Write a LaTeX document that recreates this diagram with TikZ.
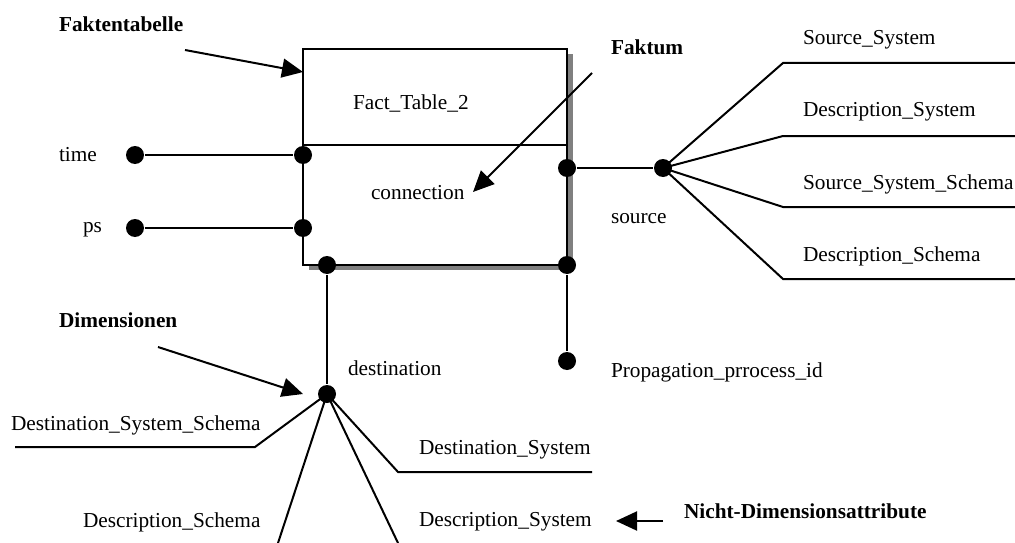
\documentclass[tikz,border=0pt]{standalone}
\usepackage{fontspec}
\setmainfont{Liberation Serif}
\usetikzlibrary{arrows.meta,shadows}
\begin{document}
\begin{tikzpicture}[x=1pt,y=-1pt,
  line width=2pt,
  every node/.style={font=\fontsize{21.3}{25}\selectfont},
  dot/.style={circle,fill=black,draw=none,minimum size=18pt,inner sep=0pt},
  lbl/.style={anchor=base west,inner sep=0pt},
  boldlbl/.style={lbl,font=\fontsize{21.3}{25}\selectfont\bfseries},
  pointer/.style={-{Triangle[length=21pt,width=19pt]},line width=2pt},
  conn/.style={line width=2pt}]
\useasboundingbox (0,0) rectangle (1015,543);

% fact table box with drop shadow
\node (fact) [draw,fill=white,minimum width=264pt,minimum height=216pt,inner sep=0pt,
  drop shadow={shadow xshift=5.5pt,shadow yshift=-5pt,fill=black!50,opacity=1}] at (435,157) {};
\coordinate (divL) at (303,145);
\coordinate (divR) at (567,145);
\draw[conn] (divL) -- (divR);

\node[lbl] (ftname) at (352,109) {Fact\_Table\_2};
\node[lbl] (connlbl) at (370,199) {connection};

% attribute dots
\node[dot] (tL) at (135,155) {};
\node[dot] (tB) at (303,155) {};
\node[dot] (pL) at (135,228) {};
\node[dot] (pB) at (303,228) {};
\node[dot] (sB) at (567,168) {};
\node[dot] (src) at (663,168) {};
\node[dot] (dB) at (327,265) {};
\node[dot] (dst) at (327,394) {};
\node[dot] (prB) at (567,265) {};
\node[dot] (prop) at (567,361) {};

\draw[conn] (tL) -- (tB);
\draw[conn] (pL) -- (pB);
\draw[conn] (sB) -- (src);
\draw[conn] (dB) -- (dst);
\draw[conn] (prB) -- (prop);

% source fan
\coordinate (s1) at (783,63);  \coordinate (s1e) at (1015,63);
\coordinate (s2) at (783,136); \coordinate (s2e) at (1015,136);
\coordinate (s3) at (783,207); \coordinate (s3e) at (1015,207);
\coordinate (s4) at (783,279); \coordinate (s4e) at (1015,279);
\draw[conn] (src.center) -- (s1) -- (s1e);
\draw[conn] (src.center) -- (s2) -- (s2e);
\draw[conn] (src.center) -- (s3) -- (s3e);
\draw[conn] (src.center) -- (s4) -- (s4e);

% destination fan
\coordinate (d1) at (255,447); \coordinate (d1e) at (15,447);
\coordinate (d2) at (398,472); \coordinate (d2e) at (592,472);
\coordinate (d3) at (278,543);
\coordinate (d4) at (398,543);
\draw[conn] (dst.center) -- (d1) -- (d1e);
\draw[conn] (dst.center) -- (d2) -- (d2e);
\draw[conn] (dst.center) -- (d3);
\draw[conn] (dst.center) -- (d4);

% labels
\node[lbl] (time) at (58,161) {time};
\node[lbl] (ps) at (82,232) {ps};
\node[lbl] (source) at (610,223) {source};
\node[lbl] (ss) at (802,45) {Source\_System};
\node[lbl] (ds) at (802,117) {Description\_System};
\node[lbl] (sss) at (802,189) {Source\_System\_Schema};
\node[lbl] (dsch) at (802,261) {Description\_Schema};
\node[lbl] (destlbl) at (347,375) {destination};
\node[lbl] (dss) at (10,430) {Destination\_System\_Schema};
\node[lbl] (dsys) at (418,454) {Destination\_System};
\node[lbl] (descsch) at (82,527) {Description\_Schema};
\node[lbl] (descsys) at (418,526) {Description\_System};
\node[lbl] (propid) at (610,377) {Propagation\_prrocess\_id};

% annotations
\node[boldlbl] (ftab) at (58,32) {Faktentabelle};
\node[boldlbl] (faktum) at (610,55) {Faktum};
\node[boldlbl] (dim) at (58,327) {Dimensionen};
\node[boldlbl] (nicht) at (683,518) {Nicht-Dimensionsattribute};

\coordinate (aft0) at (185,50);  \coordinate (aft1) at (303,72);
\coordinate (afk0) at (592,73);  \coordinate (afk1) at (473,192);
\coordinate (adm0) at (158,347); \coordinate (adm1) at (303,394);
\coordinate (ani0) at (663,521); \coordinate (ani1) at (616,521);
\draw[pointer] (aft0) -- (aft1);
\draw[pointer] (afk0) -- (afk1);
\draw[pointer] (adm0) -- (adm1);
\draw[pointer] (ani0) -- (ani1);
\end{tikzpicture}
\end{document}
